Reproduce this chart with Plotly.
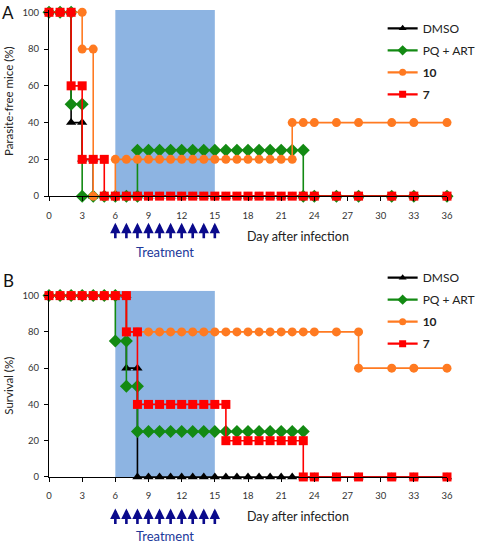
import plotly.graph_objects as go

# ---------------- data ----------------
# Panel A: parasite-free mice (%)
a_dmso_x = [0, 1, 2, 2, 3, 3, 4, 4, 5, 6, 7, 8, 9, 10, 11, 12, 13, 14, 15, 16, 17, 18, 19, 20, 21, 22, 23, 24, 26, 28, 31, 33, 36]
a_dmso_y = [100, 100, 100, 40, 40, 20, 20, 0, 0, 0, 0, 0, 0, 0, 0, 0, 0, 0, 0, 0, 0, 0, 0, 0, 0, 0, 0, 0, 0, 0, 0, 0, 0]

a_pq_x = [0, 1, 2, 2, 3, 3, 4, 5, 6, 7, 8, 8, 9, 10, 11, 12, 13, 14, 15, 16, 17, 18, 19, 20, 21, 22, 23, 23, 24, 26, 28, 31, 33, 36]
a_pq_y = [100, 100, 100, 50, 50, 0, 0, 0, 0, 0, 0, 25, 25, 25, 25, 25, 25, 25, 25, 25, 25, 25, 25, 25, 25, 25, 25, 0, 0, 0, 0, 0, 0, 0]

a_c10_x = [0, 1, 2, 3, 3, 4, 4, 5, 6, 6, 7, 8, 9, 10, 11, 12, 13, 14, 15, 16, 17, 18, 19, 20, 21, 22, 22, 23, 24, 26, 28, 31, 33, 36]
a_c10_y = [100, 100, 100, 100, 80, 80, 0, 0, 0, 20, 20, 20, 20, 20, 20, 20, 20, 20, 20, 20, 20, 20, 20, 20, 20, 20, 40, 40, 40, 40, 40, 40, 40, 40]

a_c7_x = [0, 1, 2, 2, 3, 3, 4, 5, 5, 6, 7, 8, 9, 10, 11, 12, 13, 14, 15, 16, 17, 18, 19, 20, 21, 22, 23, 24, 26, 28, 31, 33, 36]
a_c7_y = [100, 100, 100, 60, 60, 20, 20, 20, 0, 0, 0, 0, 0, 0, 0, 0, 0, 0, 0, 0, 0, 0, 0, 0, 0, 0, 0, 0, 0, 0, 0, 0, 0]

# Panel B: survival (%)
b_dmso_x = [0, 1, 2, 3, 4, 5, 6, 7, 7, 8, 8, 9, 10, 11, 12, 13, 14, 15, 16, 17, 18, 19, 20, 21, 22, 23, 24, 26, 28, 31, 33, 36]
b_dmso_y = [100, 100, 100, 100, 100, 100, 100, 100, 60, 60, 0, 0, 0, 0, 0, 0, 0, 0, 0, 0, 0, 0, 0, 0, 0, 0, 0, 0, 0, 0, 0, 0]

b_pq_x = [0, 1, 2, 3, 4, 5, 6, 6, 7, 7, 8, 8, 9, 10, 11, 12, 13, 14, 15, 16, 17, 18, 19, 20, 21, 22, 23]
b_pq_y = [100, 100, 100, 100, 100, 100, 100, 75, 75, 50, 50, 25, 25, 25, 25, 25, 25, 25, 25, 25, 25, 25, 25, 25, 25, 25, 25]

b_c10_x = [0, 1, 2, 3, 4, 5, 6, 7, 7, 8, 9, 10, 11, 12, 13, 14, 15, 16, 17, 18, 19, 20, 21, 22, 23, 24, 26, 28, 28, 31, 33, 36]
b_c10_y = [100, 100, 100, 100, 100, 100, 100, 100, 80, 80, 80, 80, 80, 80, 80, 80, 80, 80, 80, 80, 80, 80, 80, 80, 80, 80, 80, 80, 60, 60, 60, 60]

b_c7_x = [0, 1, 2, 3, 4, 5, 6, 7, 7, 8, 8, 9, 10, 11, 12, 13, 14, 15, 16, 16, 17, 18, 19, 20, 21, 22, 23, 23, 24, 26, 28, 31, 33, 36]
b_c7_y = [100, 100, 100, 100, 100, 100, 100, 100, 80, 80, 40, 40, 40, 40, 40, 40, 40, 40, 40, 20, 20, 20, 20, 20, 20, 20, 20, 0, 0, 0, 0, 0, 0, 0]

series_names = ["DMSO", "PQ + ART", "<b>10</b>", "<b>7</b>"]
x_ticks = [0, 3, 6, 9, 12, 15, 18, 21, 24, 27, 30, 33, 36]
y_ticks = [0, 20, 40, 60, 80, 100]
treatment_days = [6, 7, 8, 9, 10, 11, 12, 13, 14, 15]
treatment_window = [6, 15]

# ---------------- style ----------------
FONT = "Lato"
colors = ["#000000", "#138A13", "#FF7A21", "#FF0000"]
symbols = ["triangle-up", "diamond", "circle", "square"]
msizes = [9, 10, 9, 9]
leg_msizes = [7, 8, 7, 7]
navy = "#0A0A8C"
W, H = 480.0, 546.0
ML, MR = 49, 29
PW = W - ML - MR

fig = go.Figure()

panels = [
    (("x", "y"), "legend", [(a_dmso_x, a_dmso_y), (a_pq_x, a_pq_y), (a_c10_x, a_c10_y), (a_c7_x, a_c7_y)]),
    (("x2", "y2"), "legend2", [(b_dmso_x, b_dmso_y), (b_pq_x, b_pq_y), (b_c10_x, b_c10_y), (b_c7_x, b_c7_y)]),
]
for p, ((xa, ya), leg, data) in enumerate(panels):
    for i, (xs, ys) in enumerate(data):
        fig.add_trace(go.Scatter(
            x=xs, y=ys, mode="lines+markers", name=series_names[i],
            xaxis=xa, yaxis=ya, showlegend=False, cliponaxis=False,
            line=dict(color=colors[i], width=1.6),
            marker=dict(symbol=symbols[i], size=msizes[i], color=colors[i]),
        ))
    # legend-only entries (smaller markers, as in the original legend)
    for i in range(4):
        fig.add_trace(go.Scatter(
            x=[None], y=[None], mode="lines+markers", name=series_names[i],
            xaxis=xa, yaxis=ya, legend=leg, legendgroup=f"g{p}{i}", showlegend=True,
            line=dict(color=colors[i], width=2.2),
            marker=dict(symbol=symbols[i], size=leg_msizes[i], color=colors[i]),
        ))

# geometry (pixel positions from the reference)
dom_a = [1 - 196 / H, 1 - 7 / H]
dom_b = [1 - 481 / H, 1 - 292 / H]
range_a = [0, 101.3]
range_b = [0, 102.7]

def ax_common(is_x):
    return dict(showgrid=False, zeroline=False, showline=True, linecolor="black", linewidth=1,
                ticks="outside", tickcolor="black", ticklen=4,
                ticklabelstandoff=6 if is_x else 3,
                tickfont=dict(family=FONT, size=9.5, color="#333"))

def px_x(px):
    return (px - ML) / PW

def px_y(py):
    return 1 - py / H

leg_common = dict(xanchor="left", yanchor="top", bgcolor="rgba(0,0,0,0)",
                  font=dict(family=FONT, size=12, color="#222"), itemwidth=30, tracegroupgap=3)

fig.update_layout(
    width=W, height=H,
    margin=dict(l=ML, r=MR, t=0, b=0),
    plot_bgcolor="white", paper_bgcolor="white",
    font=dict(family=FONT),
    xaxis=dict(domain=[0, 1], range=[0, 36], tickvals=x_ticks, anchor="y", **ax_common(True)),
    yaxis=dict(domain=dom_a, range=range_a, tickvals=y_ticks, anchor="x", **ax_common(False)),
    xaxis2=dict(domain=[0, 1], range=[0, 36], tickvals=x_ticks, anchor="y2", **ax_common(True)),
    yaxis2=dict(domain=dom_b, range=range_b, tickvals=y_ticks, anchor="x2", **ax_common(False)),
    legend=dict(x=px_x(386), y=px_y(11), **leg_common),
    legend2=dict(x=px_x(386), y=px_y(264), **leg_common),
)

# treatment window shading
fig.add_shape(type="rect", xref="x", yref="y", x0=treatment_window[0], x1=treatment_window[1],
              y0=0, y1=range_a[1], fillcolor="#8DB4E2", line_width=0, layer="below")
fig.add_shape(type="rect", xref="x2", yref="y2", x0=treatment_window[0], x1=treatment_window[1],
              y0=0, y1=range_b[1], fillcolor="#8DB4E2", line_width=0, layer="below")

# arrows and labels under each panel
for xref, tip_px, treat_px, day_px in [("x", 223, 253, 237), ("x2", 513, 541, 521)]:
    for d in treatment_days:
        fig.add_annotation(x=d, xref=xref, y=px_y(tip_px), yref="paper", text="",
                           showarrow=True, arrowhead=2, arrowsize=0.8, arrowwidth=2.6,
                           arrowcolor=navy, ax=0, ay=17, standoff=0, startstandoff=0)
    fig.add_annotation(x=sum(treatment_window) / 2, xref=xref, y=px_y(treat_px), yref="paper",
                       text="Treatment", showarrow=False,
                       font=dict(family=FONT, size=13, color="#20389A"),
                       xanchor="center", yanchor="middle")
    fig.add_annotation(x=px_x(300), xref="paper", y=px_y(day_px), yref="paper",
                       text="Day after infection", showarrow=False,
                       font=dict(family=FONT, size=12.5, color="#222"),
                       xanchor="center", yanchor="middle")

# y titles and panel letters
fig.add_annotation(x=px_x(8), xref="paper", y=px_y(100), yref="paper", text="Parasite-free mice (%)",
                   textangle=-90, showarrow=False, xanchor="center", yanchor="middle",
                   font=dict(family=FONT, size=11.5, color="#222"))
fig.add_annotation(x=px_x(8), xref="paper", y=px_y(388), yref="paper", text="Survival (%)",
                   textangle=-90, showarrow=False, xanchor="center", yanchor="middle",
                   font=dict(family=FONT, size=11.5, color="#222"))
fig.add_annotation(x=px_x(8), xref="paper", y=px_y(10), yref="paper", text="A",
                   showarrow=False, xanchor="center", yanchor="middle",
                   font=dict(family=FONT, size=17, color="#111"))
fig.add_annotation(x=px_x(8), xref="paper", y=px_y(282), yref="paper", text="B",
                   showarrow=False, xanchor="center", yanchor="middle",
                   font=dict(family=FONT, size=17, color="#111"))

# remove the browser's default 8px page margin so the figure fills the window exactly
fig.write_html("out.html", config={"displayModeBar": False},
               post_script="document.body.style.margin='0';")
